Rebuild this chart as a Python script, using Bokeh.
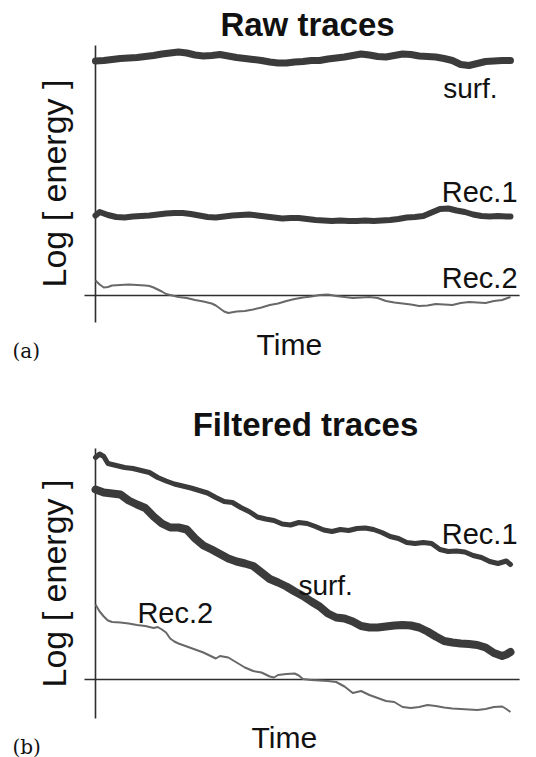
import math
from bokeh.plotting import figure
from bokeh.layouts import column
from bokeh.models import Label
from bokeh.embed import file_html
from bokeh.resources import INLINE

# ---------------- data: panel (a) Raw traces ----------------
a_surf_t = [0, 2, 4, 6, 8, 10, 12, 14, 16, 18, 20, 22, 24, 26, 28, 30, 32, 34, 36, 38, 40,
            42, 44, 46, 48, 50, 52, 54, 56, 58, 60, 62, 64, 66, 68, 70, 72, 74, 76, 78, 80,
            82, 84, 86, 88, 90, 92, 94, 96, 98, 100]
a_surf_y = [23.45, 23.5, 23.6, 23.7, 23.75, 23.8, 23.9, 24.0, 24.15, 24.25, 24.35, 24.25, 24.05,
            23.95, 24.0, 24.1, 23.95, 23.8, 23.7, 23.6, 23.5, 23.35, 23.25, 23.25, 23.35, 23.4,
            23.5, 23.5, 23.65, 23.75, 23.85, 24.0, 24.15, 24.05, 23.9, 23.85, 24.0, 24.15, 24.1,
            23.95, 23.9, 23.85, 23.7, 23.5, 23.1, 23.0, 23.2, 23.4, 23.45, 23.5, 23.5]

a_rec1_t = [0, 1, 3, 5, 7, 9, 11, 13, 15, 17, 19, 21, 23, 25, 27, 29, 31, 33, 35, 37, 39, 41,
            43, 45, 47, 49, 51, 53, 55, 57, 59, 61, 63, 65, 67, 69, 71, 73, 75, 77, 79, 81, 83,
            85, 87, 89, 91, 93, 95, 97, 99, 100]
a_rec1_y = [8.0, 8.35, 8.05, 7.85, 7.8, 7.9, 7.95, 8.0, 8.1, 8.2, 8.25, 8.25, 8.15, 8.0, 7.85,
            7.8, 7.9, 8.0, 8.05, 8.1, 8.0, 7.9, 7.8, 7.7, 7.75, 7.75, 7.65, 7.55, 7.5, 7.45, 7.5,
            7.45, 7.45, 7.5, 7.45, 7.5, 7.55, 7.65, 7.8, 7.85, 7.95, 8.3, 8.65, 8.7, 8.5, 8.35,
            8.1, 7.95, 7.9, 7.95, 7.9, 7.9]

a_rec2_t = [0, 1, 2, 3, 4, 6, 8, 10, 12, 13, 14, 15, 16, 17, 18, 20, 22, 24, 26, 28, 29, 30,
            31, 32, 34, 36, 38, 40, 42, 44, 46, 48, 50, 52, 54, 56, 58, 60, 62, 64, 66, 68, 70,
            72, 74, 76, 78, 80, 82, 84, 86, 88, 90, 92, 94, 96, 98, 100]
a_rec2_y = [1.5, 1.1, 0.8, 0.85, 1.0, 1.05, 1.1, 1.05, 1.0, 0.95, 0.8, 0.6, 0.4, 0.15, 0.05,
            -0.15, -0.25, -0.45, -0.6, -0.8, -1.0, -1.3, -1.6, -1.75, -1.6, -1.55, -1.4, -1.2,
            -0.95, -0.8, -0.55, -0.35, -0.2, -0.1, 0.05, 0.1, -0.05, -0.15, -0.25, -0.2, -0.15,
            -0.25, -0.55, -0.7, -0.8, -0.9, -1.05, -1.0, -0.85, -0.9, -0.95, -0.75, -0.65, -0.7,
            -0.75, -0.55, -0.45, -0.15]

# ---------------- data: panel (b) Filtered traces ----------------
b_rec1_t = [0, 1, 2, 3, 5, 7, 9, 11, 13, 15, 17, 19, 21, 23, 25, 27, 29, 31, 33, 35, 37, 39,
            41, 43, 45, 47, 49, 51, 53, 55, 57, 59, 61, 63, 65, 67, 69, 71, 73, 75, 77, 79, 81,
            83, 85, 87, 89, 91, 93, 95, 97, 99, 100]
b_rec1_y = [22.2, 22.55, 22.3, 21.6, 21.4, 21.2, 21.1, 20.9, 20.7, 20.2, 19.85, 19.55, 19.35,
            19.15, 18.9, 18.65, 18.2, 17.8, 17.7, 17.2, 16.8, 16.25, 16.05, 15.9, 15.55, 15.45,
            15.7, 15.6, 15.3, 14.95, 14.8, 15.0, 14.9, 15.1, 15.15, 15.0, 14.7, 14.3, 14.1,
            13.7, 13.6, 13.7, 13.6, 13.0, 12.8, 12.85, 12.75, 12.4, 12.2, 11.8, 11.6, 11.85, 11.5]

b_surf_t = [0, 2, 4, 6, 8, 10, 12, 14, 16, 18, 20, 22, 24, 26, 28, 30, 32, 34, 36, 38, 40, 42,
            44, 46, 48, 50, 52, 54, 56, 58, 60, 62, 64, 66, 68, 70, 72, 74, 76, 78, 80, 82, 84,
            86, 88, 90, 92, 94, 96, 98, 99, 100]
b_surf_y = [19.0, 18.7, 18.6, 18.5, 17.9, 17.5, 17.15, 16.3, 15.6, 15.2, 15.2, 15.0, 14.1, 13.4,
            13.0, 12.55, 12.1, 11.8, 11.6, 11.35, 10.7, 10.05, 9.7, 9.3, 8.8, 8.35, 7.8, 7.3,
            6.6, 6.2, 6.1, 5.8, 5.35, 5.2, 5.2, 5.3, 5.4, 5.45, 5.4, 5.2, 4.8, 4.3, 3.85, 3.7,
            3.6, 3.55, 3.45, 3.2, 2.65, 2.35, 2.5, 2.75]

b_rec2_t = [0, 1, 2, 3, 4, 6, 8, 10, 12, 14, 15, 16, 17, 18, 19, 20, 22, 24, 26, 28, 29, 30,
            32, 34, 36, 38, 40, 42, 43, 44, 46, 48, 49, 50, 52, 54, 56, 58, 60, 62, 64, 66, 68,
            70, 72, 74, 76, 78, 80, 82, 84, 86, 88, 90, 92, 94, 96, 98, 99, 100]
b_rec2_y = [7.5, 6.8, 6.3, 5.9, 5.75, 5.7, 5.6, 5.45, 5.35, 5.15, 5.25, 5.0, 4.7, 4.1, 3.8, 3.6,
            3.3, 3.0, 2.7, 2.3, 2.1, 2.35, 2.2, 1.7, 1.2, 0.85, 0.7, 0.3, 0.2, 0.45, 0.55, 0.6,
            0.4, 0.05, -0.05, -0.1, -0.15, -0.25, -0.7, -1.35, -1.15, -1.55, -1.85, -2.15, -2.25,
            -2.75, -2.85, -2.75, -2.55, -2.65, -2.8, -2.9, -2.95, -3.0, -3.05, -2.95, -2.75, -2.7,
            -2.95, -3.25]

titles = ["Raw traces", "Filtered traces"]
x_label = "Time"
y_label = "Log [ energy ]"
panel_tags = ["(a)", "(b)"]
trace_names = ["surf.", "Rec.1", "Rec.2"]

SANS = "Liberation Sans"
DARK = "#3b3b3b"
LIGHT = "#686868"
AXIS = "#2e2e2e"
INK = "#111111"

X_RANGE = (-22.89, 106.27)
BASE_START = -2.65
BASE_END = 102.2


def make_panel(height, y_range, axis_bottom, axis_top):
    p = figure(width=536, height=height, x_range=X_RANGE, y_range=y_range,
               x_axis_type=None, y_axis_type=None,
               output_backend="svg", toolbar_location=None,
               min_border=0, min_border_left=0, min_border_right=0,
               min_border_top=0, min_border_bottom=0)
    p.outline_line_color = None
    p.background_fill_color = "white"
    p.border_fill_color = "white"
    # vertical axis at t = 0 and zero baseline
    p.segment(x0=[0], y0=[axis_bottom], x1=[0], y1=[axis_top], line_color=AXIS, line_width=1.6)
    p.segment(x0=[BASE_START], y0=[0], x1=[BASE_END], y1=[0], line_color=AXIS, line_width=1.6)
    return p


def add_text(p, x, y, text, size="28px", align="left", font=SANS, baseline="middle",
             style="normal", angle=0.0):
    p.add_layout(Label(x=x, y=y, text=text, text_font=font, text_font_size=size,
                       text_align=align, text_baseline=baseline, text_color=INK,
                       text_font_style=style, angle=angle))


# ---------------- panel (a) ----------------
pa = make_panel(378, (-8.3, 29.5), -2.7, 25.0)
pa.line(a_surf_t, a_surf_y, line_color=DARK, line_width=7, line_join="round", line_cap="round")
pa.line(a_rec1_t, a_rec1_y, line_color=DARK, line_width=6, line_join="round", line_cap="round")
pa.line(a_rec2_t, a_rec2_y, line_color=LIGHT, line_width=2, line_join="round")
add_text(pa, 51.1, 27.1, titles[0], size="33px", align="center", style="bold")
add_text(pa, -9.9, 11.2, y_label, size="34px", align="center", angle=math.pi / 2)
add_text(pa, 96.9, 20.7, trace_names[0], align="right")
add_text(pa, 101.7, 10.4, trace_names[1], size="29px", align="right")
add_text(pa, 101.7, 1.8, trace_names[2], size="29px", align="right")
add_text(pa, 46.7, -4.9, x_label, size="30px", align="center")
add_text(pa, -20.0, -5.5, panel_tags[0], size="20px", font="DejaVu Serif")

# ---------------- panel (b) ----------------
pb = make_panel(379, (-7.8, 30.1), -3.9, 23.1)
pb.line(b_rec1_t, b_rec1_y, line_color=DARK, line_width=5, line_join="round", line_cap="round")
pb.line(b_surf_t, b_surf_y, line_color=DARK, line_width=8, line_join="round", line_cap="round")
pb.line(b_rec2_t, b_rec2_y, line_color=LIGHT, line_width=2, line_join="round")
add_text(pb, 50.6, 25.5, titles[1], size="33px", align="center", style="bold")
add_text(pb, -9.9, 9.6, y_label, size="34px", align="center", angle=math.pi / 2)
add_text(pb, 101.7, 14.6, trace_names[1], size="29px", align="right")
add_text(pb, 48.9, 9.4, trace_names[0], align="left")
add_text(pb, 10.1, 6.7, trace_names[2], size="29px", align="left")
add_text(pb, 45.5, -5.8, x_label, size="30px", align="center")
add_text(pb, -20.0, -6.7, panel_tags[1], size="20px", font="DejaVu Serif")

layout = column(pa, pb, spacing=0)
open("out.html", "w").write(file_html(layout, INLINE))
